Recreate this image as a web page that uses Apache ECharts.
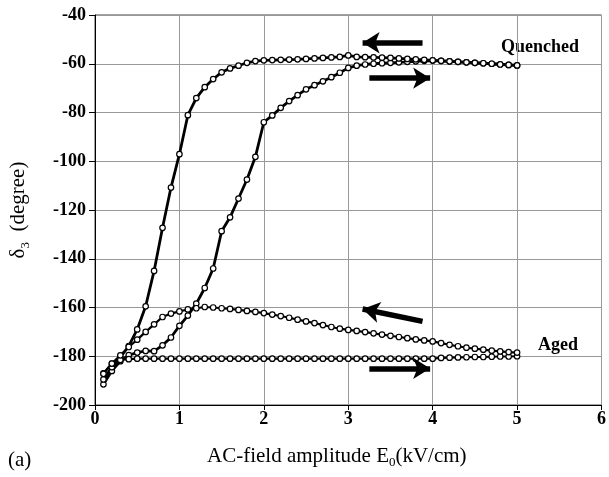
<!DOCTYPE html>
<html><head><meta charset="utf-8">
<script src="https://cdn.jsdelivr.net/npm/echarts@6/dist/echarts.min.js"></script>
<style>html,body{margin:0;padding:0;background:#fff}#c{width:609px;height:477px}</style>
</head><body><div id="c"></div>
<script>
// Field amplitude E0 (kV/cm), 0.1 steps
var fieldValues = [0.1,0.2,0.3,0.4,0.5,0.6,0.7,0.8,0.9,1.0,1.1,1.2,1.3,1.4,1.5,1.6,1.7,1.8,1.9,2.0,2.1,2.2,2.3,2.4,2.5,2.6,2.7,2.8,2.9,3.0,3.1,3.2,3.3,3.4,3.5,3.6,3.7,3.8,3.9,4.0,4.1,4.2,4.3,4.4,4.5,4.6,4.7,4.8,4.9,5.0];
// Quenched, increasing field (→)
var quenchedUp = [-191.5,-186,-182,-179.5,-178.5,-177.8,-177.9,-175.5,-172.3,-167.5,-163.3,-158.4,-152,-144,-128.7,-123,-115.3,-107.5,-98.2,-84,-81.2,-78.1,-75.3,-72.9,-70.5,-68.8,-67.2,-65.5,-63.7,-61.7,-60.8,-60.3,-60.0,-59.8,-59.6,-59.4,-59.2,-59.0,-58.8,-58.7,-58.8,-59.0,-59.2,-59.4,-59.6,-59.8,-60.0,-60.2,-60.5,-60.7];
// Quenched, decreasing field (←)
var quenchedDown = [-189.5,-184.5,-180.5,-175.8,-169,-159.5,-145,-127.3,-110.8,-97.1,-81.1,-74.1,-69.6,-66.3,-63.5,-61.9,-60.8,-59.6,-58.9,-58.6,-58.5,-58.4,-58.3,-58.2,-58.0,-57.8,-57.6,-57.4,-57.2,-56.6,-57.2,-57.3,-57.4,-57.5,-57.6,-57.8,-58.0,-58.2,-58.4,-58.6,-58.8,-59.0,-59.2,-59.4,-59.6,-59.8,-60.0,-60.3,-60.5,-60.7];
// Aged, increasing field (→)
var agedUp = [-187,-183,-181.5,-181.2,-181.0,-181.0,-181.0,-181.0,-181.0,-181.0,-181.0,-181.0,-181.0,-181.0,-181.0,-181.0,-181.0,-181.0,-181.0,-181.0,-181.0,-181.0,-181.0,-181.0,-181.0,-181.0,-181.0,-181.0,-181.0,-181.0,-181.0,-181.0,-181.0,-181.0,-181.0,-181.0,-181.0,-181.0,-181.0,-181.0,-180.7,-180.6,-180.5,-180.4,-180.3,-180.3,-180.2,-180.1,-180.1,-180.0];
// Aged, decreasing field (←)
var agedDown = [-187.2,-183,-179.6,-176.2,-173.2,-170,-166.9,-163.9,-162.5,-161.6,-160.8,-160.3,-159.8,-160,-160.3,-160.6,-161,-161.4,-161.8,-162.3,-162.9,-163.5,-164.2,-165,-165.7,-166.4,-167.2,-168,-168.7,-169.2,-169.6,-170.1,-170.6,-171.1,-171.6,-172.1,-172.6,-173.1,-173.5,-173.9,-174.6,-175.3,-175.9,-176.5,-176.9,-177.3,-177.7,-178,-178.3,-178.5];
var xTicks = [0,1,2,3,4,5,6];
var yTicks = [-200,-180,-160,-140,-120,-100,-80,-60,-40];

function pairs(ys){ return fieldValues.map(function(x,i){ return [x, ys[i]]; }); }
var serif = '"Liberation Serif", "DejaVu Serif", serif';
function mkSeries(name, ys, lw){
  return {name:name, type:'line', data:pairs(ys), symbol:'circle', symbolSize:5.5,
    itemStyle:{color:'#fff', borderColor:'#000', borderWidth:1.2},
    lineStyle:{color:'#000', width:lw}, z:3, animation:false};
}
var arrowStyle = {color:'#000', width:5.5, type:'solid'};
var chart = echarts.init(document.getElementById('c'), null, {renderer:'canvas'});
chart.setOption({
  animation:false,
  grid:{left:95, right:1, top:15, bottom:72, show:true, borderColor:'#444', borderWidth:1},
  xAxis:{type:'value', min:xTicks[0], max:xTicks[xTicks.length-1], interval:1,
    axisLine:{show:true, onZero:false, lineStyle:{color:'#000', width:1}},
    axisTick:{show:true, length:5, lineStyle:{color:'#000'}},
    axisLabel:{fontFamily:serif, fontWeight:'bold', fontSize:18, color:'#000', margin:5},
    splitLine:{show:true, lineStyle:{color:'#999', width:1}}},
  yAxis:{type:'value', min:yTicks[0], max:yTicks[yTicks.length-1], interval:20,
    axisLine:{show:true, lineStyle:{color:'#000', width:1}},
    axisTick:{show:true, length:6, lineStyle:{color:'#000'}},
    axisLabel:{fontFamily:serif, fontWeight:'bold', fontSize:18, color:'#000', margin:9},
    splitLine:{show:true, lineStyle:{color:'#999', width:1}},
    name:'{a|δ}{s|3}{a|  (degree)}', nameLocation:'middle', nameGap:63, nameRotate:90,
    nameTextStyle:{rich:{a:{fontFamily:serif, fontSize:21, color:'#000'}, s:{fontFamily:serif, fontSize:13, color:'#000', verticalAlign:'bottom', padding:[14,0,0,0]}}}},
  graphic:[
    {type:'text', left:207, top:446, style:{text:'AC-field amplitude E{s|0}(kV/cm)', font:'21px "Liberation Serif"', fill:'#000',
      rich:{s:{fontFamily:serif, fontSize:13, fill:'#000', padding:[12,0,0,0]}}}},
    {type:'text', left:8, top:450, style:{text:'(a)', font:'21px "Liberation Serif"', fill:'#000'}},
    {type:'text', left:501, top:38, style:{text:'Quenched', font:'bold 18px "Liberation Serif"', fill:'#000'}},
    {type:'text', left:538, top:336, style:{text:'Aged', font:'bold 18px "Liberation Serif"', fill:'#000'}}
  ],
  series:[
    mkSeries('Quenched up', quenchedUp, 2.8),
    mkSeries('Quenched down', quenchedDown, 2.8),
    mkSeries('Aged up', agedUp, 2.2),
    mkSeries('Aged down', agedDown, 2.2),
    {name:'arrows', type:'line', data:[], markLine:{silent:true, symbol:['none','arrow'], symbolSize:[16,17],
      label:{show:false}, lineStyle:arrowStyle, animation:false,
      data:[
        [{coord:[3.88,-51.4]},{coord:[3.17,-51.4]}],
        [{coord:[3.25,-65.9]},{coord:[3.97,-65.9]}],
        [{coord:[3.88,-165.7]},{coord:[3.17,-160.6]}],
        [{coord:[3.25,-185]},{coord:[3.97,-185]}]
      ]}}
  ]
});
</script></body></html>
